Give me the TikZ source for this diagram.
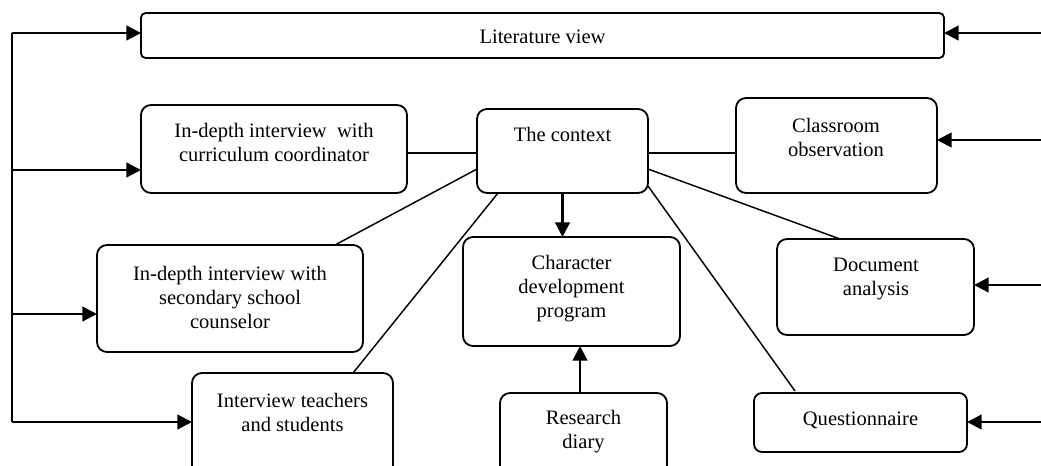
\documentclass[tikz,border=0pt]{standalone}
\usepackage{fontspec}
\setmainfont{Liberation Serif}
\usetikzlibrary{arrows.meta,calc}
\begin{document}
\begin{tikzpicture}[x=0.75pt,y=-0.75pt,
  box/.style={draw, line width=1.35pt, rounded corners=7.5pt, inner sep=0pt, outer sep=0pt},
  txt/.style={align=center, inner sep=0pt, font=\fontsize{15.4}{18}\selectfont},
  link/.style={line width=1.1pt},
  flow/.style={line width=1.7pt, -{Triangle[length=11pt,width=11pt]}}]
\useasboundingbox (0,0) rectangle (1041,465);
\clip (0,0) rectangle (1041,465);
% boxes
\node[box, rounded corners=3.5pt, minimum width=602.25pt, minimum height=33.75pt] (lit) at (542.5,35.5) {};
\node[box, minimum width=199.5pt, minimum height=66pt] (cur) at (274,149) {};
\node[box, minimum width=128.25pt, minimum height=63pt] (ctx) at (562.5,151) {};
\node[box, minimum width=150.75pt, minimum height=71.25pt] (cls) at (836.5,145.5) {};
\node[box, minimum width=199.5pt, minimum height=80.25pt] (cou) at (230,298.5) {};
\node[box, minimum width=150.75pt, minimum height=80.25pt] (tea) at (292.5,426.5) {};
\node[box, minimum width=162.75pt, minimum height=81.75pt] (chr) at (571.5,291.5) {};
\node[box, minimum width=125.25pt, minimum height=65.25pt] (dia) at (583.5,436.5) {};
\node[box, minimum width=147.75pt, minimum height=72pt] (doc) at (875.5,287) {};
\node[box, rounded corners=6pt, minimum width=159.75pt, minimum height=44.25pt] (que) at (860.5,422.5) {};
% texts
\node[txt] (litT) at (542.5,37) {Literature view};
\node[txt] (curT) at (274,142) {In-depth interview\ \ with\\curriculum coordinator};
\node[txt] (ctxT) at (562.5,134) {The context};
\node[txt] (clsT) at (836,137.5) {Classroom\\observation};
\node[txt] (couT) at (230,297.5) {In-depth interview with\\secondary school\\counselor};
\node[txt] (teaT) at (292.5,412) {Interview teachers\\and students};
\node[txt] (chrT) at (571.5,288.5) {Character\\development\\program};
\node[txt] (diaT) at (583.5,431.5) {Research\\diary};
\node[txt] (docT) at (876,279) {Document\\analysis};
\node[txt] (queT) at (860.5,420) {Questionnaire};
% free ends of the side arrows
\coordinate (L1) at (12,33);
\coordinate (L2) at (12,170);
\coordinate (L3) at (12,314);
\coordinate (L4) at (12,422);
\coordinate (R1) at (1041,33);
\coordinate (R2) at (1041,140);
\coordinate (R3) at (1041,285);
\coordinate (R4) at (1041,422);
% left side
\draw[line width=1.7pt] (L1) -- (L4);
\draw[flow] (L1) -- (L1 -| lit.west);
\draw[flow] (L2) -- (L2 -| cur.west);
\draw[flow] (L3) -- (L3 -| cou.west);
\draw[flow] (L4) -- (L4 -| tea.west);
% right side
\draw[flow] (R1) -- (R1 -| lit.east);
\draw[flow] (R2) -- (R2 -| cls.east);
\draw[flow] (R3) -- (R3 -| doc.east);
\draw[flow] (R4) -- (R4 -| que.east);
% links from the context
\draw[link] ([yshift=-1.5pt]ctx.west) -- ([yshift=-1.5pt]ctx.west -| cur.east);
\draw[link] ([yshift=-1.5pt]ctx.east) -- ([yshift=-1.5pt]ctx.east -| cls.west);
\draw[link] ($(ctx.west)+(0,18)$) -- ($(cou.north east)+(-28,0)$);
\draw[link] ($(ctx.south west)+(21,0)$) -- ($(tea.north west)+(161,0)$);
\draw[link] ($(ctx.east)+(0,18)$) -- ($(doc.north)+(-35.5,0)$);
\draw[link] ($(ctx.south east)+(0,-7)$) -- ($(que.north west)+(41,-2)$);
% vertical arrows
\draw[flow] (ctx.south) -- (ctx.south |- chr.north);
\draw[flow] ([xshift=-2.6pt]dia.north) -- ([xshift=-2.6pt]dia.north |- chr.south);
\end{tikzpicture}
\end{document}
